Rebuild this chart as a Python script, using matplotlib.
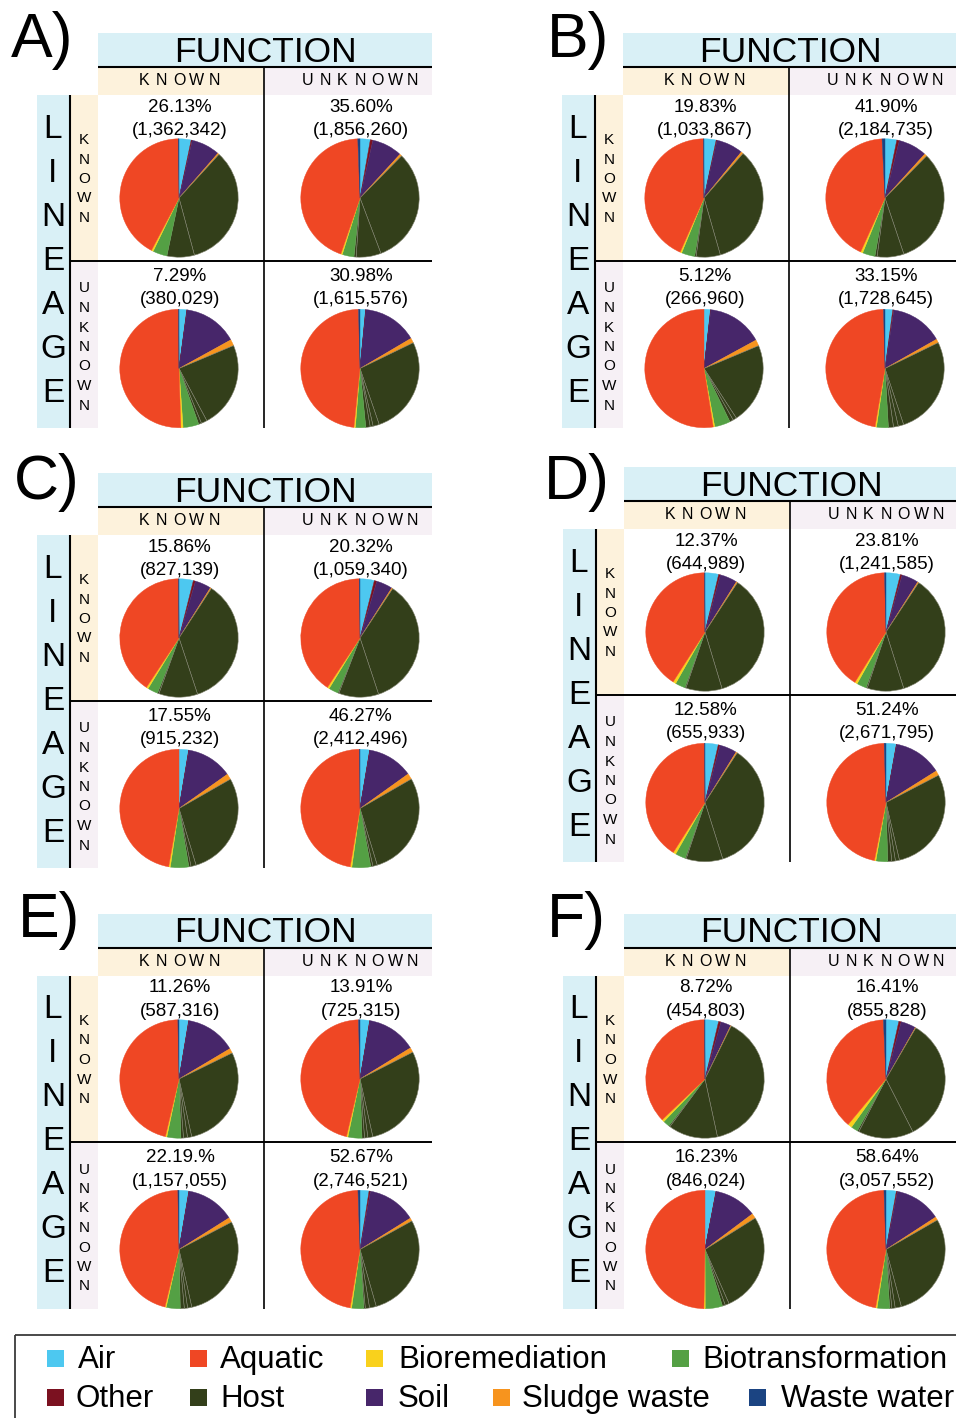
import matplotlib
matplotlib.use('Agg')
import matplotlib.pyplot as plt
from matplotlib.patches import Rectangle

W, H = 956, 1418
plt.rcParams['font.family'] = ['Liberation Sans', 'DejaVu Sans']

# ---------------- data ----------------
panel_names = ['A)', 'B)', 'C)', 'D)', 'E)', 'F)']
# order inside every panel: known/known, known/unknown(func), unknown/known, unknown/unknown
pct_labels = [
    '26.13%', '35.60%', '7.29%', '30.98%',
    '19.83%', '41.90%', '5.12%', '33.15%',
    '15.86%', '20.32%', '17.55%', '46.27%',
    '12.37%', '23.81%', '12.58%', '51.24%',
    '11.26%', '13.91%', '22.19.%', '52.67%',
    '8.72%', '16.41%', '16.23%', '58.64%',
]
count_labels = [
    '(1,362,342)', '(1,856,260)', '(380,029)', '(1,615,576)',
    '(1,033,867)', '(2,184,735)', '(266,960)', '(1,728,645)',
    '(827,139)', '(1,059,340)', '(915,232)', '(2,412,496)',
    '(644,989)', '(1,241,585)', '(655,933)', '(2,671,795)',
    '(587,316)', '(725,315)', '(1,157,055)', '(2,746,521)',
    '(454,803)', '(855,828)', '(846,024)', '(3,057,552)',
]

air = [3.3, 2.8, 2.1, 1.5, 3.3, 3.2, 1.75, 2.1, 3.9, 3.9, 2.6, 2.6,
       3.7, 3.9, 3.6, 2.8, 2.6, 2.6, 2.65, 2.45, 3.7, 3.5, 2.95, 2.8]
other = [0.3, 0.7, 0.1, 0.1, 0.25, 0.7, 0.1, 0.3, 0.6, 0.7, 0.1, 0.1,
         0.5, 0.5, 0.5, 0.1, 0.1, 0.1, 0.1, 0.4, 0.65, 0.65, 0.1, 0.3]
soil = [7.8, 8.3, 14.8, 14.9, 7.3, 7.8, 15.2, 14.4, 4.4, 4.4, 12.5, 12.4,
        4.7, 4.6, 4.7, 13.2, 13.75, 13.5, 13.3, 13.3, 2.8, 4.1, 11.7, 12.7]
sludge = [0.4, 0.6, 1.7, 1.3, 0.6, 0.7, 1.65, 1.0, 0.3, 0.3, 1.55, 1.6,
          0.35, 0.3, 0.35, 1.3, 1.3, 1.3, 1.3, 0.85, 0.15, 0.15, 1.35, 0.9]
host = [
    [34.0, 7.5], [31.9, 6.8, 0.6], [23.6, 1.6, 0.8], [26.9, 1.7, 0.8, 1.2],
    [34.1, 6.6, 0.4], [32.4, 7.3, 0.6], [22.1, 1.0, 1.0], [27.1, 1.5, 1.3, 1.4],
    [35.7, 10.6, 0.4], [35.6, 10.9, 0.3], [28.6, 1.4, 0.6], [28.6, 1.2, 0.6],
    [36.1, 9.9, 0.3], [35.8, 10.0, 0.35], [36.0, 10.0, 0.3], [29.0, 1.1, 1.0, 1.1],
    [28.8, 1.15, 1.1, 0.7], [29.0, 1.35, 0.9, 0.7], [29.2, 1.15, 0.9, 1.1], [28.6, 1.85, 1.15, 0.4],
    [39.3, 13.5, 0.35], [34.1, 15.1, 0.45], [27.25, 1.1, 0.8], [29.1, 1.7, 0.9, 0.6],
]
biotransformation = [3.9, 3.2, 4.3, 2.8, 3.6, 3.4, 4.3, 3.2, 2.8, 2.6, 5.0, 5.1,
                     2.7, 2.6, 2.8, 3.2, 3.8, 3.8, 3.8, 3.3, 1.75, 1.85, 4.7, 3.4]
bioremediation = [0.5, 0.4, 0.6, 0.4, 0.45, 0.6, 0.4, 0.4, 0.55, 0.55, 0.45, 0.45,
                  0.8, 0.7, 0.75, 0.4, 0.4, 0.4, 0.35, 0.4, 0.65, 1.15, 0.35, 0.4]
aquatic = [42.1, 44.2, 50.5, 47.9, 43.3, 42.4, 52.5, 46.9, 40.6, 40.5, 47.2, 47.2,
           40.85, 40.75, 40.9, 46.4, 46.0, 45.9, 45.9, 46.8, 37.0, 38.25, 49.7, 46.6]
waste_water = [0.2, 0.6, 0.1, 0.4, 0.1, 0.8, 0.0, 0.4, 0.1, 0.2, 0.0, 0.15,
               0.1, 0.4, 0.1, 0.5, 0.3, 0.4, 0.3, 0.55, 0.1, 0.7, 0.0, 0.55]

legend_row1 = ['Air', 'Aquatic', 'Bioremediation', 'Biotransformation']
legend_row2 = ['Other', 'Host', 'Soil', 'Sludge waste', 'Waste water']

# ---------------- styles ----------------
COL = {
    'Air': '#4dc8f0', 'Aquatic': '#ef4724', 'Bioremediation': '#f9d11c',
    'Biotransformation': '#54a044', 'Other': '#7b1120', 'Host': '#333f1a',
    'Soil': '#47266a', 'Sludge waste': '#f7941e', 'Waste water': '#1b4482',
}
BLUE_BG = '#d9f0f6'
KNOWN_BG = '#fdf2dc'
UNKNOWN_BG = '#f6f0f5'

fig = plt.figure(figsize=(W / 100, H / 100), dpi=100)
bg = fig.add_axes([0, 0, 1, 1])
bg.set_xlim(0, W)
bg.set_ylim(H, 0)
bg.axis('off')


def rect(x0, y0, x1, y1, color):
    bg.add_patch(Rectangle((x0, y0), x1 - x0, y1 - y0, facecolor=color,
                           edgecolor='none', zorder=1))


def hline(x0, x1, y, lw, color='black'):
    bg.plot([x0, x1], [y, y], color=color, lw=lw, solid_capstyle='butt', zorder=3)


def vline(x, y0, y1, lw, color='black'):
    bg.plot([x, x], [y0, y1], color=color, lw=lw, solid_capstyle='butt', zorder=3)


def draw_pie(cx, cy, r, i):
    vals = [air[i], other[i], soil[i], sludge[i]] + host[i] + \
        [biotransformation[i], bioremediation[i], aquatic[i], waste_water[i]]
    names = ['Air', 'Other', 'Soil', 'Sludge waste'] + ['Host'] * len(host[i]) + \
        ['Biotransformation', 'Bioremediation', 'Aquatic', 'Waste water']
    cols = [COL[n] for n in names]
    ax = fig.add_axes([(cx - r) / W, 1 - (cy + r) / H, 2 * r / W, 2 * r / H])
    wedges, _ = ax.pie(vals, colors=cols, startangle=90, counterclock=False,
                       radius=1.0)
    for w, n, c, v in zip(wedges, names, cols, vals):
        if n == 'Host':
            w.set_edgecolor('#80826e')
            w.set_linewidth(0.4)
        else:
            w.set_edgecolor(c)
            w.set_linewidth(0.3 if v > 0 else 0)
    ax.set_xlim(-1.005, 1.005)
    ax.set_ylim(-1.005, 1.005)
    ax.axis('off')


panel_offsets = [(0, 0), (525, 0), (0, 440), (526, 434), (0, 881), (526, 881)]
label_pos = [(42, 40), (578, 40), (47, 482), (577, 483), (49, 921), (576, 921)]

pie_cx = [179, 360]
pie_cy = [198, 368.5]
R = 59.5

for p, (ox, oy) in enumerate(panel_offsets):
    X = lambda v: v + ox
    Y = lambda v: v + oy
    # backgrounds
    rect(X(98), Y(33), X(432), Y(66.5), BLUE_BG)
    rect(X(98), Y(66.5), X(264.5), Y(95), KNOWN_BG)
    rect(X(264.5), Y(66.5), X(432), Y(95), UNKNOWN_BG)
    rect(X(37), Y(95), X(70), Y(428), BLUE_BG)
    rect(X(70), Y(95), X(98), Y(261), KNOWN_BG)
    rect(X(70), Y(261), X(98), Y(428), UNKNOWN_BG)
    # lines
    hline(X(98), X(432), Y(66.5), 1.5)
    vline(X(264.5), Y(66.5), Y(428), 1.2)
    hline(X(70), X(432), Y(261), 1.4)
    vline(X(70), Y(95), Y(428), 1.5)
    # header texts
    bg.text(X(265), Y(61.5), 'FUNCTION', fontsize=25.5, ha='center', va='baseline', zorder=4)
    for c, word in enumerate(['KNOWN', 'UNKNOWN']):
        n = len(word)
        for k, ch in enumerate(word):
            bg.text(X(pie_cx[c] + (k - (n - 1) / 2) * 17.5), Y(85), ch, fontsize=11.5,
                    ha='center', va='baseline', zorder=4)
    for k, ch in enumerate('LINEAGE'):
        bg.text(X(53), Y(137.5 + k * 44), ch, fontsize=24, ha='center',
                va='baseline', zorder=4)
    for k, ch in enumerate('KNOWN'):
        bg.text(X(84), Y(144 + k * 19.5), ch, fontsize=11, ha='center',
                va='baseline', zorder=4)
    for k, ch in enumerate('UNKNOWN'):
        bg.text(X(84), Y(292.5 + k * 19.5), ch, fontsize=11, ha='center',
                va='baseline', zorder=4)
    bg.text(label_pos[p][0], label_pos[p][1], panel_names[p], fontsize=45,
            ha='center', va='center', zorder=4)
    # pies
    for row in range(2):
        for col in range(2):
            i = p * 4 + row * 2 + col
            tx = X(pie_cx[col] + 1)
            base = 111.5 if row == 0 else 281
            bg.text(tx, Y(base), pct_labels[i], fontsize=13.5, ha='center',
                    va='baseline', zorder=4)
            bg.text(tx, Y(base + 23.5), count_labels[i], fontsize=13.5,
                    ha='center', va='baseline', zorder=4)
            draw_pie(X(pie_cx[col]), Y(pie_cy[row]), R, i)

# ---------------- legend ----------------
hline(15.5, W, 1335, 1.3, '#3a3a3a')
vline(15.5, 1335, H, 1.3, '#3a3a3a')
row1_sq_x = [47.5, 190, 366.5, 672.5]
row1_tx_x = [78, 220, 398, 702.5]
row2_sq_x = [47.5, 190.5, 366.5, 493.5, 749.5]
row2_tx_x = [76, 220.5, 398, 522.5, 781]
for labels, sqx, txx, sq_y, base in [(legend_row1, row1_sq_x, row1_tx_x, 1349.5, 1368),
                                    (legend_row2, row2_sq_x, row2_tx_x, 1388.5, 1407)]:
    for lab, sx, tx in zip(labels, sqx, txx):
        rect(sx, sq_y, sx + 17, sq_y + 17.5, COL[lab])
        bg.text(tx, base, lab, fontsize=22.5, ha='left', va='baseline', zorder=4)

fig.savefig('out.png', dpi=100)
